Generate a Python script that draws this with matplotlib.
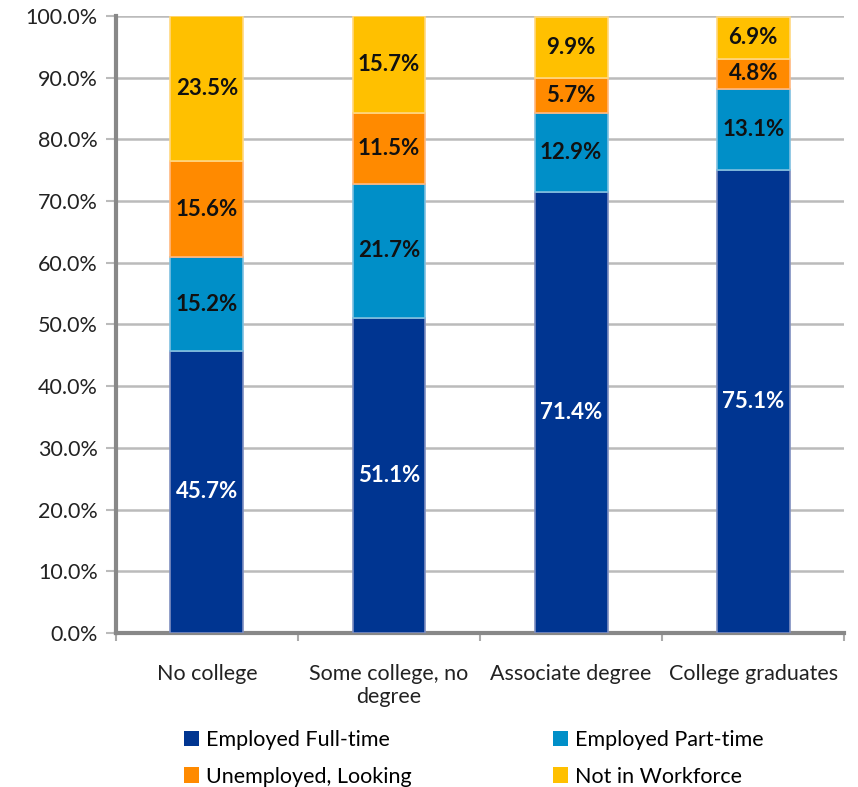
import numpy as np
import matplotlib.pyplot as plt
from matplotlib.ticker import FuncFormatter

plt.rcParams['font.family'] = ['Lato', 'DejaVu Sans']

categories = ['No college', 'Some college, no\ndegree', 'Associate degree', 'College graduates']
series = ['Employed Full-time', 'Employed Part-time', 'Unemployed, Looking', 'Not in Workforce']
full_time = [45.7, 51.1, 71.4, 75.1]
part_time = [15.2, 21.7, 12.9, 13.1]
unemployed = [15.6, 11.5, 5.7, 4.8]
not_in_wf = [23.5, 15.7, 9.9, 6.9]

colors = ['#003591', '#008FC8', '#FF8A00', '#FFC000']
edges = ['#7F8FC0', '#80C0E0', '#FFB880', '#FFD880']
label_colors = ['white', '#111111', '#111111', '#111111']

fig = plt.figure(figsize=(8.58, 7.87), dpi=100)
ax = fig.add_axes([0.135, 0.1957, 0.849, 0.784])

x = np.arange(len(categories))
bottom = np.zeros(len(categories))
for vals, name, c, ec, lc in zip([full_time, part_time, unemployed, not_in_wf],
                                  series, colors, edges, label_colors):
    vals = np.array(vals)
    bars = ax.bar(x, vals, 0.4, bottom=bottom, color=c, edgecolor=ec,
                  linewidth=1.2, label=name, zorder=3)
    for xi, b, v in zip(x, bottom, vals):
        ax.text(xi, b + v / 2, f'{v:.1f}%', ha='center', va='center',
                color=lc, fontsize=16, fontweight='bold', zorder=4)
    bottom += vals

ax.set_xlim(-0.5, len(categories) - 0.5)
ax.set_ylim(0, 100)
ax.set_yticks(np.arange(0, 101, 10))
ax.yaxis.set_major_formatter(FuncFormatter(lambda v, p: f'{v:.1f}%'))
ax.set_xticks(x)
ax.set_xticklabels(categories)
ax.set_xticks(np.arange(-0.5, len(categories), 1), minor=True)
ax.tick_params(axis='x', which='major', length=0, pad=22, labelsize=15.5, labelcolor='#222222')
ax.tick_params(axis='x', which='minor', length=6, width=1.5, color='#AAAAAA', direction='out')
ax.tick_params(axis='y', length=7, width=1.5, color='#BBBBBB', labelsize=15.5,
               labelcolor='#222222', pad=6)

ax.grid(axis='y', color='#BBBBBB', linewidth=1.8, zorder=0)
for s in ['top', 'right']:
    ax.spines[s].set_visible(False)
for s in ['left', 'bottom']:
    ax.spines[s].set_color('#888888')
    ax.spines[s].set_linewidth(3)

handles, labels = ax.get_legend_handles_labels()
order = [0, 2, 1, 3]
leg = fig.legend([handles[i] for i in order], [labels[i] for i in order],
                 loc='lower left', bbox_to_anchor=(0.192, -0.024), ncol=2,
                 frameon=False, fontsize=15.5, handlelength=0.7, handleheight=0.7,
                 columnspacing=6.6, labelspacing=0.75, handletextpad=0.3)
for h in leg.legend_handles:
    h.set_edgecolor('none')

fig.savefig('out.png', dpi=100)
